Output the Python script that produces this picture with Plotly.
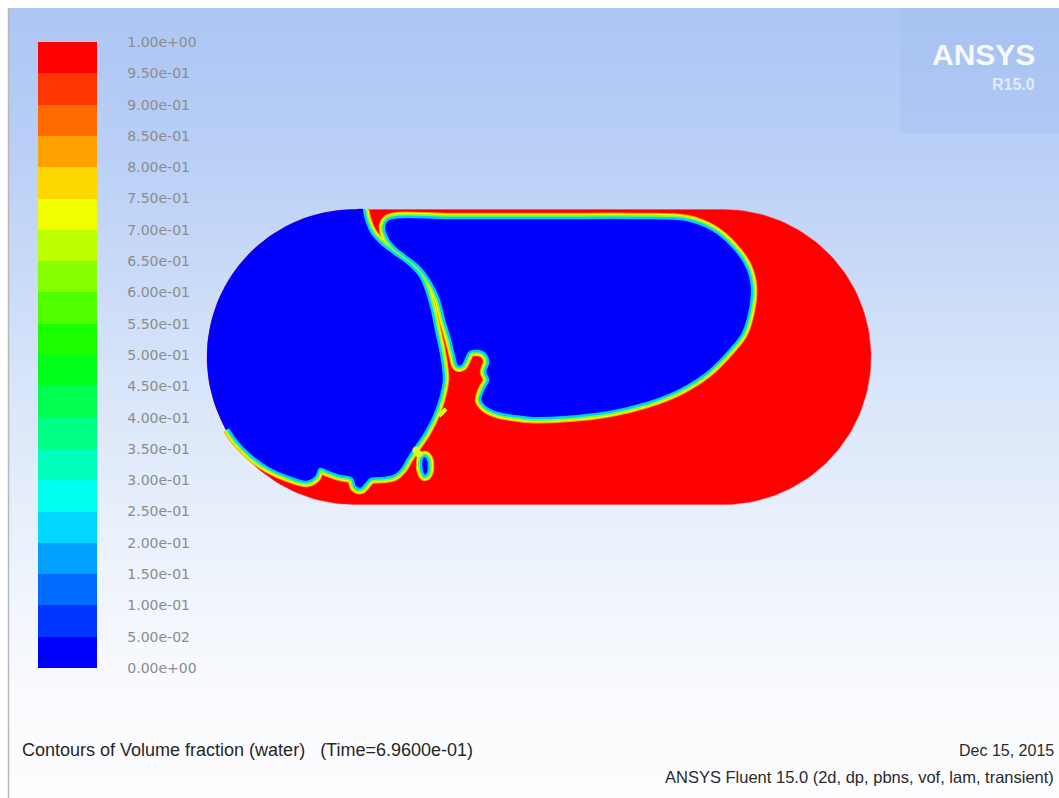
import numpy as np
import plotly.graph_objects as go

# ---------------------------------------------------------------------------
# Tank geometry (mm): two semicircular ends joined by a straight section
TANK_RADIUS = 147.5
HALF_LEN = 184.5

# Contour levels of the water volume fraction and their band colours
levels = [round(0.05 * i, 2) for i in range(21)]
level_labels = ["0.00e+00", "5.00e-02", "1.00e-01", "1.50e-01", "2.00e-01",
                "2.50e-01", "3.00e-01", "3.50e-01", "4.00e-01", "4.50e-01",
                "5.00e-01", "5.50e-01", "6.00e-01", "6.50e-01", "7.00e-01",
                "7.50e-01", "8.00e-01", "8.50e-01", "9.00e-01", "9.50e-01",
                "1.00e+00"]
band_colors = ["#0000ff", "#0036ff", "#006bff", "#00a1ff", "#00d7ff",
               "#00fff1", "#00ffbc", "#00ff86", "#00ff50", "#00ff1b",
               "#1bff00", "#50ff00", "#86ff00", "#bcff00", "#f1ff00",
               "#ffd700", "#ffa100", "#ff6b00", "#ff3600", "#ff0000"]

# Air / water interface of the left air pocket (from the top wall, down the
# neck, along the lower free surface to the left wall)
left_iface_x = [-175, -172, -167, -157, -144, -130, -119, -112, -107, -103,
                -99, -96, -95, -98, -104, -113, -123, -131, -137, -145,
                -156, -168, -173, -178, -184, -187, -199, -211, -219, -223,
                -232, -251, -271, -288, -302, -311]
left_iface_y = [147.5, 135, 124, 113, 103, 93, 81, 65, 47, 27,
                9, -9, -23, -39, -57, -75, -90, -102, -112, -119,
                -121, -122, -127, -132, -130, -122, -119, -115, -112, -120,
                -125, -120, -111, -99, -85, -72]

# Closed interface of the large air pocket on the right
right_iface_x = [-150, -89, 11, 101, 148, 174, 194, 208, 213, 211,
                 204, 191, 168, 141, 108, 71, 28, -9, -26, -42,
                 -54, -59, -56, -51, -54, -51, -52, -57, -69, -72,
                 -77, -82, -85, -89, -95, -101, -110, -121, -134, -146,
                 -153, -155, -150]
right_iface_y = [138, 139, 139, 139, 137, 127, 110, 90, 70, 47,
                 24, 7, -16, -33, -46, -55, -60, -61, -59, -56,
                 -50, -43, -33, -23, -15, -6, 0, 5, 5, 0,
                 -9, -9, 1, 17, 37, 59, 77, 91, 101, 111,
                 121, 131, 138]

# Small entrained air bubble below the neck
small_bubble_x = [-114, -111, -110, -111, -114, -117, -118, -117, -114]
small_bubble_y = [-99, -102, -109, -116, -119, -115, -107, -101, -99]

# Partially mixed cells (volume fraction around 0.7)
mixed_blob_x = [-123, -120]
mixed_blob_y = [-93, -97]
droplet_x = [-100, -93]
droplet_y = [-59, -52]

# Background gradient of the graphics window (y in mm, colour)
bg_y = [-441, -343, -193, 7, 207, 349, 357]
bg_colors = ["#fdfdff", "#fafbfe", "#ecf2fc", "#d4e2f9", "#b9cff6", "#acc6f4", "#acc6f4"]

X_RANGE = [-539, 520]
Y_RANGE = [-441, 357]

# ---------------------------------------------------------------------------
def tank_outline(n=90):
    xs, ys = [], []
    for a in np.linspace(np.pi / 2, -np.pi / 2, n):          # right end
        xs.append(HALF_LEN + TANK_RADIUS * np.cos(a))
        ys.append(TANK_RADIUS * np.sin(a))
    for a in np.linspace(3 * np.pi / 2, np.pi / 2, n):      # left end
        xs.append(-HALF_LEN + TANK_RADIUS * np.cos(a))
        ys.append(TANK_RADIUS * np.sin(a))
    xs.append(xs[0])
    ys.append(ys[0])
    return xs, ys


def wall_arc(x_start, y_start, n=40):
    """Left end wall from a contact point up to the top of the tank."""
    a0 = np.arctan2(y_start, x_start + HALF_LEN) % (2 * np.pi)
    angles = np.linspace(a0, np.pi / 2, n)
    return (list(-HALF_LEN + TANK_RADIUS * np.cos(angles)),
            list(TANK_RADIUS * np.sin(angles)))


fig = go.Figure()

# window background
bg_pos = [(v - bg_y[0]) / (bg_y[-1] - bg_y[0]) for v in bg_y]
fig.add_trace(go.Heatmap(
    x=[X_RANGE[0] - 20, X_RANGE[1] + 20], y=bg_y,
    z=[[v, v] for v in bg_y],
    colorscale=[[p, c] for p, c in zip(bg_pos, bg_colors)],
    zsmooth="best", showscale=False, hoverinfo="skip"))

# water-filled tank
tx, ty = tank_outline()
fig.add_trace(go.Scatter(x=tx, y=ty, mode="lines", fill="toself",
                         fillcolor="#ff0000", line=dict(width=0.8, color="rgba(255,60,60,0.6)"),
                         hoverinfo="skip"))

interfaces = [(left_iface_x, left_iface_y), (right_iface_x, right_iface_y),
              (small_bubble_x, small_bubble_y)]

# diffuse interface bands (0.95 -> 0.3)
for width, color in [(10.5, "#ff9a00"), (8.5, "#f4ff00"), (6, "#7dff2a")]:
    for ix, iy in interfaces:
        fig.add_trace(go.Scatter(x=ix, y=iy, mode="lines",
                                 line=dict(color=color, width=width, shape="spline"),
                                 hoverinfo="skip"))

# air pockets
ax, ay = wall_arc(left_iface_x[-1], left_iface_y[-1])
fig.add_trace(go.Scatter(x=left_iface_x + ax + [left_iface_x[0]],
                         y=left_iface_y + ay + [left_iface_y[0]],
                         mode="lines", fill="toself", fillcolor="#0000ff",
                         line=dict(width=0, shape="spline"), hoverinfo="skip"))
for ix, iy in interfaces[1:]:
    fig.add_trace(go.Scatter(x=ix, y=iy, mode="lines", fill="toself",
                             fillcolor="#0000ff",
                             line=dict(width=0, shape="spline"), hoverinfo="skip"))

# low volume fraction edge of the bands
for ix, iy in interfaces:
    fig.add_trace(go.Scatter(x=ix, y=iy, mode="lines",
                             line=dict(color="#00d0ff", width=2.5, shape="spline"),
                             hoverinfo="skip"))

fig.add_trace(go.Scatter(x=droplet_x, y=droplet_y, mode="lines",
                         line=dict(color="#d8ff20", width=4), hoverinfo="skip"))
fig.add_trace(go.Scatter(x=mixed_blob_x, y=mixed_blob_y, mode="markers",
                         marker=dict(color="#d8ff20", size=7), hoverinfo="skip"))

# colour map legend
band_scale = []
for i, c in enumerate(band_colors):
    band_scale.append([levels[i], c])
    band_scale.append([levels[i + 1], c])
fig.add_trace(go.Scatter(
    x=[0], y=[0], mode="markers", hoverinfo="skip",
    marker=dict(size=1, opacity=0, color=[0.5], cmin=0, cmax=1,
                colorscale=band_scale, showscale=True,
                colorbar=dict(
                    x=38 / 1059, xanchor="left", xpad=0,
                    y=130 / 798, yanchor="bottom", ypad=0,
                    thickness=59, thicknessmode="pixels",
                    len=626, lenmode="pixels",
                    outlinewidth=0,
                    tickmode="array", tickvals=levels, ticktext=level_labels,
                    ticks="outside", ticklen=28, tickcolor="rgba(0,0,0,0)",
                    tickfont=dict(family="DejaVu Sans", size=14, color="#8c8c8c")))))

W, H = 1059, 798
shapes = [
    # logo panel
    dict(type="rect", xref="paper", yref="paper", x0=900 / W, x1=1, y0=1 - 133 / H, y1=1,
         fillcolor="rgba(150,180,238,0.22)", line=dict(width=0), layer="above"),
    # window frame
    dict(type="rect", xref="paper", yref="paper", x0=0, x1=1, y0=1 - 8 / H, y1=1,
         fillcolor="#ffffff", line=dict(width=0), layer="above"),
    dict(type="rect", xref="paper", yref="paper", x0=0, x1=8 / W, y0=0, y1=1,
         fillcolor="#ffffff", line=dict(width=0), layer="above"),
    dict(type="line", xref="paper", yref="paper", x0=8.5 / W, x1=8.5 / W, y0=0, y1=1 - 8 / H,
         line=dict(color="#b8b8b8", width=1.5), layer="above"),
]

annotations = [
    dict(text="<b>ANSYS</b>", x=1037 / W, y=1 - 54 / H, xanchor="right", yanchor="middle",
         font=dict(family="Liberation Sans", size=30, color="rgba(255,255,255,0.92)")),
    dict(text="<b>R15.0</b>", x=1037 / W, y=1 - 85 / H, xanchor="right", yanchor="middle",
         font=dict(family="Liberation Sans", size=16, color="rgba(240,244,255,0.8)")),
    dict(text="Contours of Volume fraction (water)   (Time=6.9600e-01)",
         x=20 / W, y=1 - 750 / H, xanchor="left", yanchor="middle",
         font=dict(family="Liberation Sans", size=18, color="#262626")),
    dict(text="Dec 15, 2015", x=1056 / W, y=1 - 750 / H, xanchor="right", yanchor="middle",
         font=dict(family="Liberation Sans", size=16, color="#2a2a2a")),
    dict(text="ANSYS Fluent 15.0 (2d, dp, pbns, vof, lam, transient)",
         x=1056 / W, y=1 - 777 / H, xanchor="right", yanchor="middle",
         font=dict(family="Liberation Sans", size=16.5, color="#2a2a2a")),
]
for a in annotations:
    a.update(xref="paper", yref="paper", showarrow=False)

fig.update_layout(
    width=W, height=H, margin=dict(l=0, r=0, t=0, b=0),
    paper_bgcolor="#ffffff", plot_bgcolor="#ffffff", showlegend=False,
    xaxis=dict(range=X_RANGE, visible=False, fixedrange=True),
    yaxis=dict(range=Y_RANGE, visible=False, fixedrange=True),
    shapes=shapes, annotations=annotations)

fig.write_html("out.html")
